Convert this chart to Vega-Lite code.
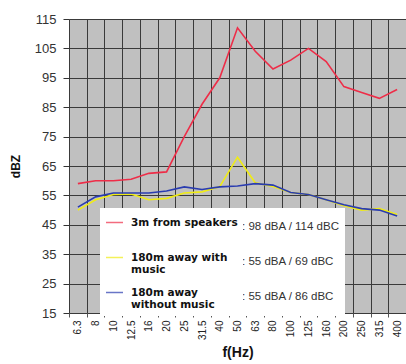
{
  "$schema": "https://vega.github.io/schema/vega-lite/v6.json",
  "width": 337,
  "height": 294,
  "autosize": {"type": "none"},
  "padding": {"left": 69, "top": 19, "right": 0, "bottom": 51},
  "background": "white",
  "config": {
    "view": {"fill": "#c0c0c0", "stroke": null},
    "font": "Liberation Sans"
  },
  "data": {
    "values": [
      {"f": "6.3", "s": "3m from speakers", "db": 59},
      {"f": "8", "s": "3m from speakers", "db": 60},
      {"f": "10", "s": "3m from speakers", "db": 60},
      {"f": "12.5", "s": "3m from speakers", "db": 60.5},
      {"f": "16", "s": "3m from speakers", "db": 62.5},
      {"f": "20", "s": "3m from speakers", "db": 63},
      {"f": "25", "s": "3m from speakers", "db": 75},
      {"f": "31.5", "s": "3m from speakers", "db": 86},
      {"f": "40", "s": "3m from speakers", "db": 95},
      {"f": "50", "s": "3m from speakers", "db": 112},
      {"f": "63", "s": "3m from speakers", "db": 104},
      {"f": "80", "s": "3m from speakers", "db": 98},
      {"f": "100", "s": "3m from speakers", "db": 101},
      {"f": "125", "s": "3m from speakers", "db": 105},
      {"f": "160", "s": "3m from speakers", "db": 100.5},
      {"f": "200", "s": "3m from speakers", "db": 92},
      {"f": "250", "s": "3m from speakers", "db": 90},
      {"f": "315", "s": "3m from speakers", "db": 88},
      {"f": "400", "s": "3m from speakers", "db": 91},
      {"f": "6.3", "s": "180m away with music", "db": 50},
      {"f": "8", "s": "180m away with music", "db": 53.5},
      {"f": "10", "s": "180m away with music", "db": 55.3},
      {"f": "12.5", "s": "180m away with music", "db": 55.5},
      {"f": "16", "s": "180m away with music", "db": 53.5},
      {"f": "20", "s": "180m away with music", "db": 54},
      {"f": "25", "s": "180m away with music", "db": 55.8},
      {"f": "31.5", "s": "180m away with music", "db": 56.2},
      {"f": "40", "s": "180m away with music", "db": 58},
      {"f": "50", "s": "180m away with music", "db": 68},
      {"f": "63", "s": "180m away with music", "db": 59.3},
      {"f": "80", "s": "180m away with music", "db": 58},
      {"f": "100", "s": "180m away with music", "db": 56},
      {"f": "125", "s": "180m away with music", "db": 55.3},
      {"f": "160", "s": "180m away with music", "db": 53.5},
      {"f": "200", "s": "180m away with music", "db": 51.5},
      {"f": "250", "s": "180m away with music", "db": 50},
      {"f": "315", "s": "180m away with music", "db": 50.5},
      {"f": "400", "s": "180m away with music", "db": 48.5},
      {"f": "6.3", "s": "180m away without music", "db": 51},
      {"f": "8", "s": "180m away without music", "db": 54.5},
      {"f": "10", "s": "180m away without music", "db": 55.8},
      {"f": "12.5", "s": "180m away without music", "db": 55.8},
      {"f": "16", "s": "180m away without music", "db": 55.8},
      {"f": "20", "s": "180m away without music", "db": 56.5},
      {"f": "25", "s": "180m away without music", "db": 57.9},
      {"f": "31.5", "s": "180m away without music", "db": 57},
      {"f": "40", "s": "180m away without music", "db": 57.9},
      {"f": "50", "s": "180m away without music", "db": 58.2},
      {"f": "63", "s": "180m away without music", "db": 59},
      {"f": "80", "s": "180m away without music", "db": 58.5},
      {"f": "100", "s": "180m away without music", "db": 56},
      {"f": "125", "s": "180m away without music", "db": 55.3},
      {"f": "160", "s": "180m away without music", "db": 53.5},
      {"f": "200", "s": "180m away without music", "db": 51.8},
      {"f": "250", "s": "180m away without music", "db": 50.5},
      {"f": "315", "s": "180m away without music", "db": 50},
      {"f": "400", "s": "180m away without music", "db": 48}
    ]
  },
  "encoding": {
    "x": {
      "field": "f",
      "type": "ordinal",
      "sort": ["6.3","8","10","12.5","16","20","25","31.5","40","50","63","80","100","125","160","200","250","315","400"],
      "scale": {"type": "band", "paddingInner": 0, "paddingOuter": 0},
      "axis": {
        "title": "f(Hz)",
        "tickBand": "extent",
        "labelAngle": 270,
        "labelAlign": "right",
        "labelBaseline": "middle",
        "labelFontSize": 10,
        "labelColor": "#222",
        "labelPadding": 3,
        "tickSize": 4,
        "tickColor": "#555",
        "domain": false,
        "grid": true,
        "gridColor": "#3a3a3a",
        "gridOpacity": 1,
        "titleFontSize": 14,
        "titleFontWeight": "bold",
        "titleColor": "#111",
        "titlePadding": 6
      }
    },
    "y": {
      "field": "db",
      "type": "quantitative",
      "scale": {"domain": [15, 115], "nice": false, "zero": false},
      "axis": {
        "title": "dBZ",
        "values": [15, 25, 35, 45, 55, 65, 75, 85, 95, 105, 115],
        "grid": true,
        "gridColor": "#3a3a3a",
        "gridOpacity": 1,
        "tickSize": 6,
        "tickColor": "#333",
        "domain": false,
        "labelFontSize": 13,
        "labelColor": "#333",
        "labelPadding": 7,
        "titleFontSize": 12,
        "titleFontWeight": "bold",
        "titleColor": "#111",
        "titlePadding": 12
      }
    }
  },
  "resolve": {"legend": {"color": "independent", "strokeDash": "independent"}, "scale": {"color": "independent", "strokeDash": "independent"}},
  "layer": [
    {
      "mark": {"type": "line", "opacity": 0},
      "encoding": {
        "strokeDash": {
          "field": "s",
          "type": "nominal",
          "scale": {
            "domain": ["3m from speakers", "180m away with music", "180m away without music"]
          },
          "legend": {
            "orient": "none",
            "legendX": 139,
            "legendY": 189,
            "title": null,
            "symbolType": "M0,-1L0,1",
            "symbolSize": 784,
            "symbolOpacity": 0,
            "symbolStrokeWidth": 0,
            "labelFont": "Liberation Sans",
            "labelFontSize": 11.5,
            "labelColor": "#333",
            "labelOffset": 1,
            "labelLimit": 300,
            "fillColor": "white",
            "padding": 5,
            "rowPadding": 7,
            "gridAlign": "all",
            "labelExpr": "datum.label == '3m from speakers' ? ': 98 dBA / 114 dBC' : datum.label == '180m away with music' ? ': 55 dBA / 69 dBC' : ': 55 dBA / 86 dBC'"
          }
        }
      }
    },
    {
      "mark": {"type": "line", "strokeWidth": 1.6},
      "encoding": {
        "color": {
          "field": "s",
          "type": "nominal",
          "scale": {
            "domain": ["3m from speakers", "180m away with music", "180m away without music"],
            "range": ["#ee2d48", "#f0ec14", "#2a3cb0"]
          },
          "legend": {
            "orient": "none",
            "legendX": 31,
            "legendY": 189,
            "title": null,
            "symbolType": "stroke",
            "symbolSize": 289,
            "symbolStrokeWidth": 1.5,
            "symbolOpacity": 0.7,
            "labelFont": "DejaVu Sans",
            "labelFontWeight": "bold",
            "labelFontSize": 10.5,
            "labelColor": "#111",
            "labelOffset": 7,
            "labelLimit": 300,
            "fillColor": "white",
            "padding": 5,
            "rowPadding": 7,
            "gridAlign": "all",
            "labelExpr": "datum.label == '180m away with music' ? ['180m away with', 'music'] : datum.label == '180m away without music' ? ['180m away', 'without music'] : datum.label"
          }
        }
      }
    }
  ]
}
